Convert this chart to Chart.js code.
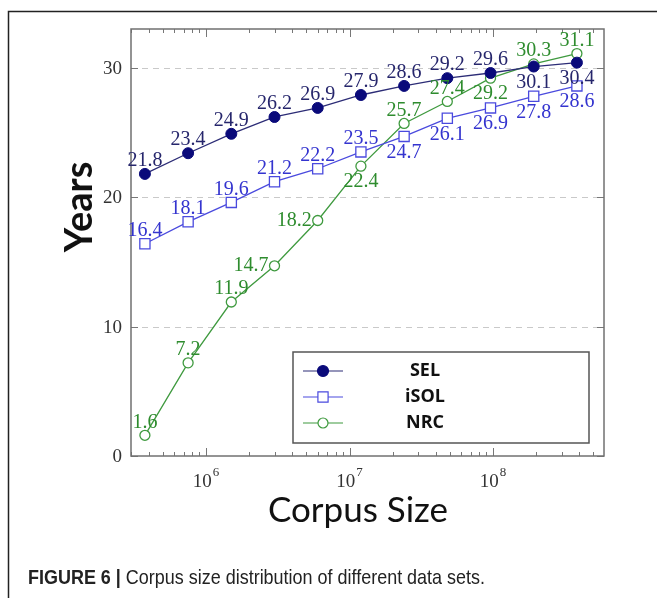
<!DOCTYPE html>
<html>
<head>
<meta charset="utf-8">
<script src="https://cdn.jsdelivr.net/npm/chart.js@4"></script>
<style>
  html, body { margin: 0; padding: 0; background: #fff; }
  #wrap { width: 657px; height: 598px; position: relative; }
</style>
</head>
<body>
<div id="wrap"><canvas id="c"></canvas></div>
<script>
// ---- data ----
const corpusSizes = [3.75e5, 7.5e5, 1.5e6, 3e6, 6e6, 1.2e7, 2.4e7, 4.8e7, 9.6e7, 1.92e8, 3.84e8];
const selYears  = [21.8, 23.4, 24.9, 26.2, 26.9, 27.9, 28.6, 29.2, 29.6, 30.1, 30.4];
const isolYears = [16.4, 18.1, 19.6, 21.2, 22.2, 23.5, 24.7, 26.1, 26.9, 27.8, 28.6];
const nrcYears  = [1.6, 7.2, 11.9, 14.7, 18.2, 22.4, 25.7, 27.4, 29.2, 30.3, 31.1];
const seriesNames = ['SEL', 'iSOL', 'NRC'];
const yTickValues = [0, 10, 20, 30];
const xTickValues = [1e6, 1e7, 1e8];
const xTickExponents = ['6', '7', '8'];
const xTitle = 'Corpus Size';
const yTitle = 'Years';
const captionBold = 'FIGURE 6 |';
const captionText = ' Corpus size distribution of different data sets.';

// ---- styling (label placement: a = above, b = below, l = left) ----
const labelPlacement = [
  ['a','a','a','a','a','a','a','a','a','b','b'],
  ['a','a','a','a','a','a','b','b','b','b','b'],
  ['a','a','a','l','l','b','a','a','b','a','a']
];
const lineColors  = ['#2c2c76', '#4a4ade', '#3f9a3f'];
const markerStroke = ['#0a0a7a', '#4a4ade', '#3f9a3f'];
const markerFill   = ['#0a0a7a', '#ffffff', '#ffffff'];
const labelColors = ['#26266c', '#3434cf', '#2e8c2e'];

const toPts = ys => corpusSizes.map((x, i) => ({ x: x, y: ys[i] }));

const decor = {
  id: 'decor',
  beforeDatasetsDraw(chart) {
    const ctx = chart.ctx, a = chart.chartArea;
    const xs = chart.scales.x, ys = chart.scales.y;
    ctx.save();
    ctx.strokeStyle = '#c9c9c9';
    ctx.lineWidth = 1;
    ctx.setLineDash([6, 5]);
    yTickValues.forEach(v => {
      if (v === 0) return;
      const y = Math.round(ys.getPixelForValue(v)) + 0.5;
      ctx.beginPath(); ctx.moveTo(a.left, y); ctx.lineTo(a.right, y); ctx.stroke();
    });
    ctx.setLineDash([]);
    ctx.strokeStyle = '#777';
    ctx.lineWidth = 1;
    yTickValues.forEach(v => {
      const y = Math.round(ys.getPixelForValue(v)) + 0.5;
      ctx.beginPath();
      ctx.moveTo(a.left, y); ctx.lineTo(a.left + 7, y);
      ctx.moveTo(a.right, y); ctx.lineTo(a.right - 7, y);
      ctx.stroke();
    });
    for (let e = 5; e <= 8; e++) {
      for (let k = 1; k <= 9; k++) {
        const v = k * Math.pow(10, e);
        if (v < xs.min || v > xs.max) continue;
        const x = Math.round(xs.getPixelForValue(v)) + 0.5;
        const len = k === 1 ? 8 : 4;
        ctx.beginPath();
        ctx.moveTo(x, a.bottom); ctx.lineTo(x, a.bottom - len);
        ctx.moveTo(x, a.top); ctx.lineTo(x, a.top + len);
        ctx.stroke();
      }
    }
    ctx.strokeStyle = '#707070';
    ctx.lineWidth = 1.5;
    ctx.strokeRect(a.left, a.top, a.right - a.left, a.bottom - a.top);
    ctx.restore();
  },
  afterDatasetsDraw(chart) {
    const ctx = chart.ctx, a = chart.chartArea;
    const xs = chart.scales.x, ys = chart.scales.y;
    ctx.save();
    // data labels
    ctx.font = '20px "Liberation Serif"';
    ctx.textBaseline = 'middle';
    chart.data.datasets.forEach((ds, di) => {
      const meta = chart.getDatasetMeta(di);
      ctx.fillStyle = labelColors[di];
      meta.data.forEach((pt, i) => {
        const txt = ds.data[i].y.toFixed(1);
        const p = labelPlacement[di][i];
        if (p === 'a') { ctx.textAlign = 'center'; ctx.fillText(txt, pt.x, pt.y - 13); }
        else if (p === 'b') { ctx.textAlign = 'center'; ctx.fillText(txt, pt.x, pt.y + 16); }
        else { ctx.textAlign = 'right'; ctx.fillText(txt, pt.x - 6, pt.y); }
      });
    });
    // y tick labels
    ctx.fillStyle = '#333';
    ctx.font = '19px "Liberation Serif"';
    ctx.textAlign = 'right';
    ctx.textBaseline = 'middle';
    yTickValues.forEach(v => ctx.fillText(String(v), a.left - 9, ys.getPixelForValue(v) + 1));
    // x tick labels with superscripts
    ctx.textBaseline = 'alphabetic';
    xTickValues.forEach((v, i) => {
      const x = xs.getPixelForValue(v);
      ctx.font = '19px "Liberation Serif"';
      const w1 = ctx.measureText('10').width;
      ctx.font = '13px "Liberation Serif"';
      const w2 = ctx.measureText(xTickExponents[i]).width;
      const start = x - (w1 + w2 + 1) / 2;
      ctx.textAlign = 'left';
      ctx.font = '19px "Liberation Serif"';
      ctx.fillText('10', start, a.bottom + 31);
      ctx.font = '13px "Liberation Serif"';
      ctx.fillText(xTickExponents[i], start + w1 + 1, a.bottom + 20);
    });
    // axis titles
    ctx.fillStyle = '#111';
    ctx.font = '35px Lato';
    ctx.textAlign = 'center';
    ctx.textBaseline = 'alphabetic';
    ctx.fillText(xTitle, 358, 522);
    ctx.save();
    ctx.translate(92, 207);
    ctx.rotate(-Math.PI / 2);
    ctx.font = 'bold 38px Lato';
    ctx.fillText(yTitle, 0, 0);
    ctx.restore();
    // legend
    const lx = 293, ly = 352, lw = 296, lh = 91;
    ctx.fillStyle = '#fff';
    ctx.fillRect(lx, ly, lw, lh);
    ctx.strokeStyle = '#555';
    ctx.lineWidth = 1.5;
    ctx.strokeRect(lx, ly, lw, lh);
    chart.data.datasets.forEach((ds, di) => {
      const y = ly + 19 + di * 26;
      ctx.strokeStyle = lineColors[di];
      ctx.lineWidth = 1.2;
      ctx.beginPath(); ctx.moveTo(lx + 10, y); ctx.lineTo(lx + 50, y); ctx.stroke();
      ctx.save();
      ctx.strokeStyle = markerStroke[di];
      ctx.fillStyle = markerFill[di];
      Chart.helpers.drawPoint(ctx, {
        pointStyle: ds.pointStyle, radius: ds.pointRadius, borderWidth: ds.pointBorderWidth
      }, lx + 30, y);
      ctx.restore();
      ctx.fillStyle = '#111';
      ctx.font = 'bold 18px "Open Sans"';
      ctx.textAlign = 'center';
      ctx.textBaseline = 'middle';
      ctx.fillText(seriesNames[di], lx + 132, y);
    });
    // caption (horizontally condensed to match)
    ctx.textAlign = 'left';
    ctx.textBaseline = 'alphabetic';
    ctx.fillStyle = '#222';
    ctx.font = 'bold 21px "Liberation Sans"';
    const bw = ctx.measureText(captionBold).width;
    ctx.font = '21px "Liberation Sans"';
    const tw = ctx.measureText(captionText).width;
    const sx = 457 / (bw + tw);
    ctx.save();
    ctx.translate(28, 584);
    ctx.scale(sx, 1);
    ctx.font = 'bold 21px "Liberation Sans"';
    ctx.fillText(captionBold, 0, 0);
    ctx.font = '21px "Liberation Sans"';
    ctx.fillText(captionText, bw, 0);
    ctx.restore();
    // figure border (top + left)
    ctx.strokeStyle = '#222';
    ctx.lineWidth = 1.5;
    ctx.beginPath();
    ctx.moveTo(8.5, 598); ctx.lineTo(8.5, 11.5); ctx.lineTo(657, 11.5);
    ctx.stroke();
    ctx.restore();
  }
};

new Chart(document.getElementById('c'), {
  type: 'line',
  data: {
    datasets: [
      { label: seriesNames[0], data: toPts(selYears), borderColor: lineColors[0], backgroundColor: markerFill[0],
        pointStyle: 'circle', pointRadius: 5.5, pointBorderColor: markerStroke[0], pointBackgroundColor: markerFill[0],
        pointBorderWidth: 1, borderWidth: 1.3 },
      { label: seriesNames[1], data: toPts(isolYears), borderColor: lineColors[1], backgroundColor: markerFill[1],
        pointStyle: 'rect', pointRadius: 7.2, pointBorderColor: markerStroke[1], pointBackgroundColor: markerFill[1],
        pointBorderWidth: 1.3, borderWidth: 1.3 },
      { label: seriesNames[2], data: toPts(nrcYears), borderColor: lineColors[2], backgroundColor: markerFill[2],
        pointStyle: 'circle', pointRadius: 5, pointBorderColor: markerStroke[2], pointBackgroundColor: markerFill[2],
        pointBorderWidth: 1.3, borderWidth: 1.3 }
    ]
  },
  options: {
    responsive: true,
    maintainAspectRatio: false,
    animation: false,
    devicePixelRatio: 1,
    layout: { padding: { left: 131, top: 29, right: 53, bottom: 142 } },
    plugins: { legend: { display: false }, tooltip: { enabled: false } },
    scales: {
      x: { type: 'logarithmic', min: 3.0e5, max: 5.93e8, display: false },
      y: { type: 'linear', min: 0, max: 33, display: false }
    }
  },
  plugins: [decor]
});
</script>
</body>
</html>
